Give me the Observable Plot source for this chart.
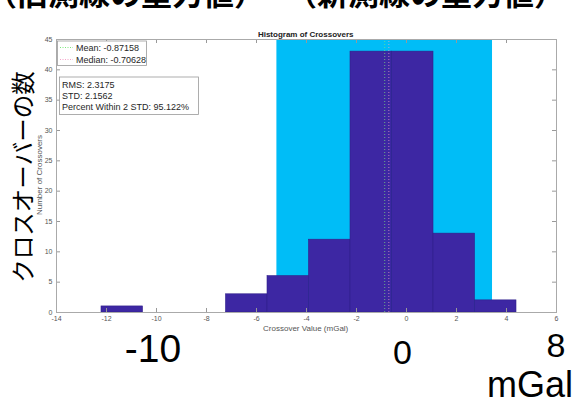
<!DOCTYPE html>
<html><head><meta charset="utf-8">
<script src="https://cdn.jsdelivr.net/npm/d3@7"></script>
<script src="https://cdn.jsdelivr.net/npm/@observablehq/plot@0.6"></script>
<style>
html,body{margin:0;padding:0;background:#fff;}
#wrap{position:relative;width:575px;height:399px;overflow:hidden;}
</style></head><body><div id="wrap"></div>
<script>
// ---- data ----
const binEdges = [-12.2, -10.54, -8.88, -7.22, -5.56, -3.9, -2.24, -0.58, 1.08, 2.74, 4.4];
const counts = [1, 0, 0, 3, 6, 12, 43, 43, 13, 2];
const meanVal = -0.87158;
const medianVal = -0.70628;
const rmsVal = 2.3175;
const stdVal = 2.1562;
const pctWithin = 95.122;
const xTicks = [-14, -12, -10, -8, -6, -4, -2, 0, 2, 4, 6];
const yTicks = [0, 5, 10, 15, 20, 25, 30, 35, 40, 45];
const xDomain = [-14, 6];
const yDomain = [0, 45];
const titleText = "Histogram of Crossovers";
const xLabel = "Crossover Value (mGal)";
const yLabel = "Number of Crossovers";
const topLeftText = "（旧測線の重力値）";
const topRightText = "（新測線の重力値）";
const jpYLabel = "クロスオーバーの数";
const bigLabels = ["-10", "0", "8", "mGal"];

const bars = counts.map((c, i) => ({x1: binEdges[i], x2: binEdges[i + 1], y: c})).filter(d => d.y > 0);
const band = [{x1: meanVal - 2 * stdVal, x2: meanVal + 2 * stdVal}];

const font = "'Liberation Sans', Arial, Helvetica, sans-serif";
const tickLenX = 0.16;  // data units (x)
const tickLenY = 0.66;  // data units (y)

const plot = Plot.plot({
  width: 575, height: 399,
  marginLeft: 56, marginRight: 19, marginTop: 39, marginBottom: 87,
  x: {domain: xDomain},
  y: {domain: yDomain},
  style: {fontFamily: font, fontSize: "7px", color: "#555", background: "white", overflow: "visible"},
  marks: [
    Plot.rect(band, {x1: "x1", x2: "x2", y1: yDomain[0], y2: yDomain[1], fill: "#00BDF7"}),
    Plot.rect(bars, {x1: "x1", x2: "x2", y1: 0, y2: "y", fill: "#3D27A3", stroke: "#30208A", strokeWidth: 0.6}),
    Plot.ruleX([meanVal], {y1: yDomain[0], y2: yDomain[1], stroke: "#7CE87C", strokeWidth: 1, strokeDasharray: "1,2", strokeOpacity: 0.7}),
    Plot.ruleX([medianVal], {y1: yDomain[0], y2: yDomain[1], stroke: "#F5A3C8", strokeWidth: 1, strokeDasharray: "1,2", strokeOpacity: 0.7}),
    Plot.ruleY(yTicks, {x1: xDomain[0], x2: xDomain[0] + tickLenX, stroke: "#999"}),
    Plot.ruleY(yTicks, {x1: xDomain[1] - tickLenX, x2: xDomain[1], stroke: "#999"}),
    Plot.ruleX(xTicks, {y1: yDomain[0], y2: yDomain[0] + tickLenY, stroke: "#999"}),
    Plot.ruleX(xTicks, {y1: yDomain[1] - tickLenY, y2: yDomain[1], stroke: "#999"}),
    Plot.frame({stroke: "#aaa"}),
    Plot.axisX({ticks: xTicks, tickSize: 0, tickPadding: 4, tickFormat: d => String(d), label: null}),
    Plot.axisY({ticks: yTicks, tickSize: 0, tickPadding: 4, tickFormat: d => String(d), label: null})
  ]
});
document.getElementById("wrap").appendChild(plot);

const svg = d3.select(plot);
const g = svg.append("g").attr("font-family", font).attr("text-anchor", "start");

// title
g.append("text").attr("x", 305.7).attr("y", 36.5).attr("text-anchor", "middle")
  .attr("font-size", 8).attr("font-weight", "bold").attr("fill", "#222").text(titleText);
// axis labels
g.append("text").attr("x", 305.7).attr("y", 331).attr("text-anchor", "middle")
  .attr("font-size", 8).attr("fill", "#555").text(xLabel);
g.append("text").attr("transform", "translate(42,175) rotate(-90)").attr("text-anchor", "middle")
  .attr("font-size", 8).attr("fill", "#555").text(yLabel);

// legend box
g.append("rect").attr("x", 57.5).attr("y", 41).attr("width", 89).attr("height", 24.5)
  .attr("fill", "white").attr("stroke", "#999").attr("stroke-width", 0.8);
[[meanVal, "Mean: ", "#7CE87C", 47.5], [medianVal, "Median: ", "#F5A3C8", 59.5]].forEach(([v, lab, col, yy]) => {
  g.append("line").attr("x1", 60).attr("x2", 73).attr("y1", yy).attr("y2", yy)
    .attr("stroke", col).attr("stroke-dasharray", "1,1.5");
  g.append("text").attr("x", 76).attr("y", yy).attr("dy", "0.35em").attr("font-size", 9)
    .attr("text-anchor", "start").attr("fill", "#262626").text(lab + v);
});
// stats box
g.append("rect").attr("x", 59.5).attr("y", 77).attr("width", 139).attr("height", 37.5)
  .attr("fill", "white").attr("stroke", "#999").attr("stroke-width", 0.8);
[["RMS: " + rmsVal, 84.5], ["STD: " + stdVal, 95.5], ["Percent Within 2 STD: " + pctWithin + "%", 107]].forEach(([t, yy]) => {
  g.append("text").attr("x", 62).attr("y", yy).attr("dy", "0.35em").attr("font-size", 9)
    .attr("text-anchor", "start").attr("fill", "#262626").text(t);
});

// Japanese annotations
const jp = "'Noto Sans CJK JP', 'Noto Sans', sans-serif";
g.append("text").attr("x", -14).attr("y", 5).attr("font-family", jp).attr("font-size", 31)
  .attr("text-anchor", "start").attr("font-weight", "bold").attr("fill", "#000").text(topLeftText);
g.append("text").attr("x", 286).attr("y", 5).attr("font-family", jp).attr("font-size", 31)
  .attr("text-anchor", "start").attr("font-weight", "bold").attr("fill", "#000").text(topRightText);
g.append("text").attr("transform", "translate(22,177) rotate(-90)").attr("text-anchor", "middle")
  .attr("dominant-baseline", "central").attr("font-family", jp).attr("font-size", 23.5)
  .attr("fill", "#000").text(jpYLabel);

// big labels
const bigPos = [[153, 362, 39], [402.5, 364, 34], [556, 357, 34], [530, 397, 36]];
bigLabels.forEach((t, i) => {
  const [x, y, s] = bigPos[i];
  g.append("text").attr("x", x).attr("y", y).attr("text-anchor", "middle")
    .attr("font-size", s).attr("fill", "#000").text(t);
});
</script></body></html>
